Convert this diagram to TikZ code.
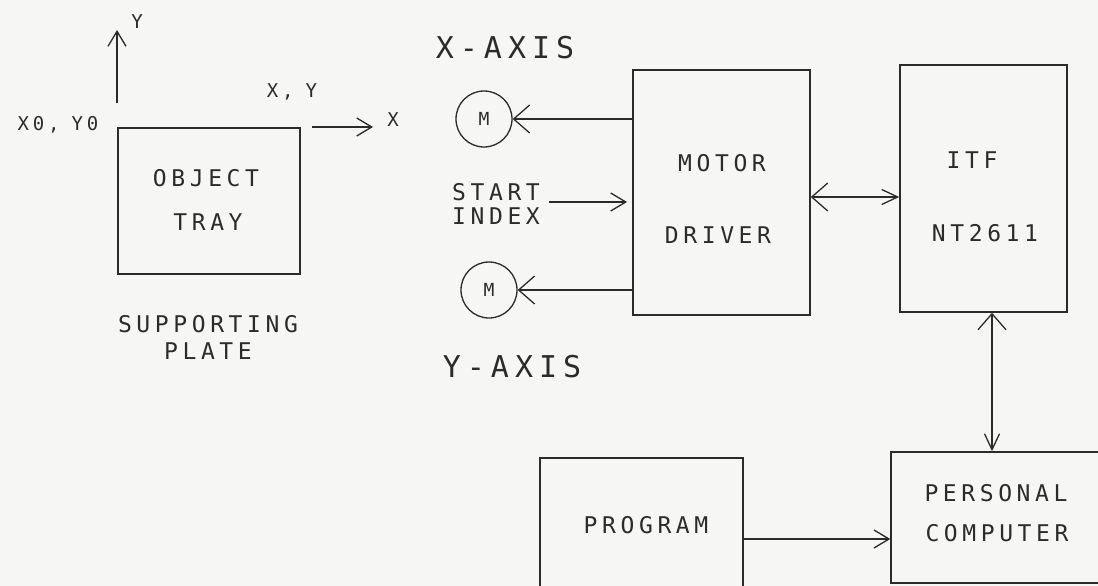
\documentclass[tikz,border=0pt]{standalone}
\usepackage{fontspec}
\newfontfamily\plotfont{DejaVu Sans Mono}[LetterSpace=20]
\usetikzlibrary{arrows.meta,calc}
\definecolor{ink}{HTML}{2B2B2B}
\definecolor{paper}{HTML}{F6F6F4}
\begin{document}
\begin{tikzpicture}[x=1pt,y=-1pt,
  box/.style={draw=ink,line width=1.5pt,inner sep=0pt},
  txt/.style={text=ink,font=\plotfont\fontsize{23}{28}\selectfont,inner sep=0pt},
  big/.style={text=ink,font=\plotfont\fontsize{30}{36}\selectfont,inner sep=0pt},
  small/.style={text=ink,font=\plotfont\fontsize{19}{24}\selectfont,inner sep=0pt},
  motor/.style={circle,draw=ink,line width=1.3pt,minimum size=56pt,inner sep=0pt,text=ink,font=\plotfont\fontsize{18}{22}\selectfont},
  arr/.style={draw=ink,line width=1.3pt,-{Straight Barb[length=15pt,width=18pt,line width=1.3pt]}},
  marr/.style={draw=ink,line width=1.3pt,-{Straight Barb[length=16pt,width=28pt,line width=1.3pt]}},
  dbl/.style={draw=ink,line width=1.3pt,{Straight Barb[length=16pt,width=28pt,line width=1.3pt]}-{Straight Barb[length=16pt,width=15pt,line width=1.3pt]}}
]
\useasboundingbox (0,0) rectangle (1098,586);
\fill[paper] (0,0) rectangle (1098,586);
\clip (0,0) rectangle (1098,586);

% object tray and axes
\node[box,minimum width=182pt,minimum height=146pt] (tray) at (209,201) {};
\node[txt] (obj) at (206,178) {OBJECT};
\node[txt] (trayt) at (208,222) {TRAY};
\node[txt,align=center] (supp) at (208,337) {SUPPORTING\\[-1pt]PLATE};
\coordinate (yb) at (117,103);
\coordinate (yt) at (117,30);
\draw[arr] (yb) -- (yt);
\node[small] (ylab) at (137,22) {Y};
\node[small] (x0y0) at (58,125) {X0,\hspace{-3pt} Y0};
\node[small] (xy) at (292,92) {X,\hspace{-3pt} Y};
\coordinate (xb) at (312,127);
\coordinate (xt) at (373,127);
\draw[arr] (xb) -- (xt);
\node[small] (xlab) at (393,120) {X};

% motors and driver
\node[big] (xaxis) at (505,48) {X-AXIS};
\node[big] (yaxis) at (512,367) {Y-AXIS};
\node[motor] (m1) at (484,119) {M};
\node[motor] (m2) at (489,290) {M};
\node[box,minimum width=177pt,minimum height=245pt] (md) at (721.5,192.5) {};
\node[txt] (mot) at (722,163) {MOTOR};
\node[txt] (drv) at (718,235) {DRIVER};
\node[txt,align=center] (si) at (496,204) {START\\[-4pt]INDEX};
\coordinate (sit) at (627,202);
\draw[arr] ([xshift=9pt]si.east |- sit) -- (sit);
\draw[marr] (m1.east -| md.west) -- (m1.east);
\draw[marr] (m2.east -| md.west) -- (m2.east);

% interface
\node[box,minimum width=167pt,minimum height=247pt] (itf) at (983.5,188.5) {};
\node[txt] (itft) at (972,160) {ITF};
\node[txt] (nt) at (985,233) {NT2611};
\draw[dbl] ([yshift=-4.5pt]md.east) -- ([yshift=-4.5pt]md.east -| itf.west);

% computer and program
\node[box,minimum width=229pt,minimum height=131pt] (pc) at (1005.5,517.5) {};
\node[txt] (pers) at (996,493) {PERSONAL};
\node[txt] (comp) at (997,533) {COMPUTER};
\node[box,minimum width=203pt,minimum height=152pt] (prog) at (641.5,534) {};
\node[txt] (progt) at (646,525) {PROGRAM};
\coordinate (vx) at (992,0);
\draw[dbl] (itf.south -| vx) -- (pc.north -| vx);
\draw[arr] ([yshift=-5pt]prog.east) -- ([yshift=-5pt]prog.east -| pc.west);
\end{tikzpicture}
\end{document}
